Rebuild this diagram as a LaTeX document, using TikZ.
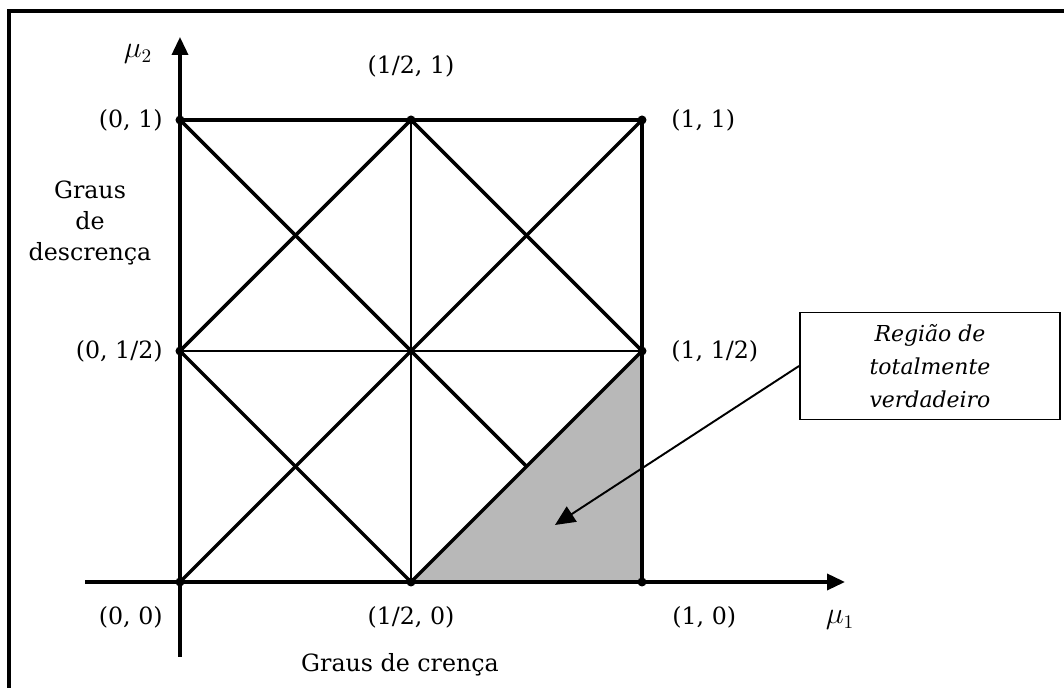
\documentclass[tikz,border=0pt]{standalone}
\usepackage{amsmath}
\usepackage{fontspec}
\setmainfont{DejaVu Serif}
\usepackage{tikz}
\usetikzlibrary{positioning,arrows.meta}

\definecolor{mShade}{HTML}{B8B8B8}

\begin{document}
\begin{tikzpicture}[x=9.24cm, y=9.24cm, font=\fontsize{13.5}{17.9}\selectfont,
  thickline/.style={line width=2pt},
  thinline/.style={line width=1.3pt},
  dot/.style={circle, fill=black, inner sep=0pt, minimum size=0.18cm},
  lbl/.style={inner sep=0pt}]
\useasboundingbox (-0.3896,-0.2294) rectangle (1.9134,1.2597);
% frame
\draw[line width=2.3pt] (1.95,1.2359) -- (-0.3701,1.2359) -- (-0.3701,-0.3);
% corner points
\coordinate (p00) at (0,0);
\coordinate (pm0) at (0.5,0);
\coordinate (p10) at (1,0);
\coordinate (p0m) at (0,0.5);
\coordinate (pmm) at (0.5,0.5);
\coordinate (p1m) at (1,0.5);
\coordinate (p01) at (0,1);
\coordinate (pm1) at (0.5,1);
\coordinate (p11) at (1,1);
\coordinate (pq) at (0.75,0.25);
% shaded region
\fill[mShade] (pm0) -- (p1m) -- (p10) -- cycle;
% axes
\coordinate (xs) at (-0.2056,0);
\coordinate (xe) at (1.4394,0);
\coordinate (ys) at (0,-0.1623);
\coordinate (ye) at (0,1.1797);
\draw[thickline, -{Triangle[length=0.36cm,width=0.32cm]}] (xs) -- (xe);
\draw[thickline, -{Triangle[length=0.36cm,width=0.32cm]}] (ys) -- (ye);
% lattice
\draw[thickline] (p10) -- (p11) -- (p01);
\draw[thinline] (p0m) -- (p1m);
\draw[thinline] (pm0) -- (pm1);
\draw[thickline] (pm0) -- (p1m) -- (pm1) -- (p0m) -- cycle;
\draw[thickline] (p00) -- (p11);
\draw[thickline] (p01) -- (pq);
\foreach \p in {p00,pm0,p10,p0m,p1m,p01,pm1,p11}
  \node[dot] (d-\p) at (\p) {};
% point labels
\node[lbl, left=0.34cm of p01] (l01) {(0, 1)};
\node[lbl, left=0.34cm of p0m] (l0m) {(0, 1/2)};
\node[lbl, right=0.58cm of p11] (l11) {(1, 1)};
\node[lbl, right=0.58cm of p1m] (l1m) {(1, 1/2)};
\node[lbl, above=0.84cm of pm1] (lm1) {(1/2, 1)};
\node[lbl, below left=0.48cm and 0.34cm of p00] (l00) {(0, 0)};
\node[lbl, below=0.48cm of pm0] (lm0) {(1/2, 0)};
\node[lbl, below right=0.48cm and 0.6cm of p10] (l10) {(1, 0)};
% axis labels
\node (mu1) at (1.4286,-0.0823) {\fontsize{16}{19}\selectfont$\mu_1$};
\node (mu2) at (-0.0909,1.1429) {\fontsize{16}{19}\selectfont$\mu_2$};
\node[align=center] (descr) at (-0.1948,0.7771) {Graus\\de\\descrença};
\node (cren) at (0.4762,-0.1797) {Graus de crença};
% callout
\node[draw, line width=1.1pt, minimum width=5.2cm, minimum height=2.14cm, align=center,
  font=\fontsize{12.5}{18.8}\selectfont\itshape] (regiao) at (1.6234,0.4675)
  {Região de\\totalmente\\verdadeiro};
\coordinate (tip) at (0.8117,0.1234);
\draw[line width=1.1pt, -{Triangle[length=0.4cm,width=0.36cm]}] (regiao.west) -- (tip);
\end{tikzpicture}
\end{document}
